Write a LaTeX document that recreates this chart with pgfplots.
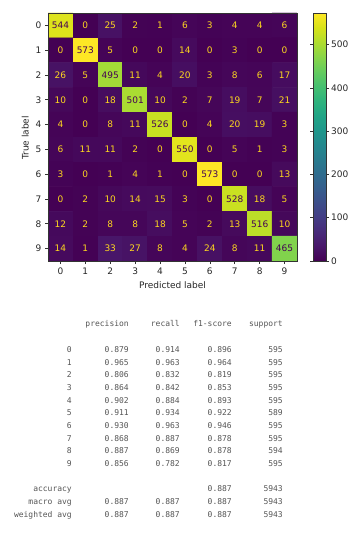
\documentclass[border=0pt]{standalone}
\usepackage{pgfplots}
\pgfplotsset{compat=1.18}
\usepackage{pgfplotstable}
\usepackage{fontspec}
\setmainfont{DejaVu Sans}
\newfontfamily\mono{DejaVu Sans Mono}
\definecolor{vyellow}{HTML}{FDE725}
\definecolor{vpurple}{HTML}{440154}
\definecolor{reptext}{HTML}{555555}
\pgfplotsset{/pgf/number format/assume math mode=true}

\pgfplotstableread{
x y c
0 0 544
1 0 0
2 0 25
3 0 2
4 0 1
5 0 6
6 0 3
7 0 4
8 0 4
9 0 6
0 1 0
1 1 573
2 1 5
3 1 0
4 1 0
5 1 14
6 1 0
7 1 3
8 1 0
9 1 0
0 2 26
1 2 5
2 2 495
3 2 11
4 2 4
5 2 20
6 2 3
7 2 8
8 2 6
9 2 17
0 3 10
1 3 0
2 3 18
3 3 501
4 3 10
5 3 2
6 3 7
7 3 19
8 3 7
9 3 21
0 4 4
1 4 0
2 4 8
3 4 11
4 4 526
5 4 0
6 4 4
7 4 20
8 4 19
9 4 3
0 5 6
1 5 11
2 5 11
3 5 2
4 5 0
5 5 550
6 5 0
7 5 5
8 5 1
9 5 3
0 6 3
1 6 0
2 6 1
3 6 4
4 6 1
5 6 0
6 6 573
7 6 0
8 6 0
9 6 13
0 7 0
1 7 2
2 7 10
3 7 14
4 7 15
5 7 3
6 7 0
7 7 528
8 7 18
9 7 5
0 8 12
1 8 2
2 8 8
3 8 8
4 8 18
5 8 5
6 8 2
7 8 13
8 8 516
9 8 10
0 9 14
1 9 1
2 9 33
3 9 27
4 9 8
5 9 4
6 9 24
7 9 8
8 9 11
9 9 465
}\cmdata

\pgfplotstableread{
x y c
1 0 0
2 0 25
3 0 2
4 0 1
5 0 6
6 0 3
7 0 4
8 0 4
9 0 6
0 1 0
2 1 5
3 1 0
4 1 0
5 1 14
6 1 0
7 1 3
8 1 0
9 1 0
0 2 26
1 2 5
3 2 11
4 2 4
5 2 20
6 2 3
7 2 8
8 2 6
9 2 17
0 3 10
1 3 0
2 3 18
4 3 10
5 3 2
6 3 7
7 3 19
8 3 7
9 3 21
0 4 4
1 4 0
2 4 8
3 4 11
5 4 0
6 4 4
7 4 20
8 4 19
9 4 3
0 5 6
1 5 11
2 5 11
3 5 2
4 5 0
6 5 0
7 5 5
8 5 1
9 5 3
0 6 3
1 6 0
2 6 1
3 6 4
4 6 1
5 6 0
7 6 0
8 6 0
9 6 13
0 7 0
1 7 2
2 7 10
3 7 14
4 7 15
5 7 3
6 7 0
8 7 18
9 7 5
0 8 12
1 8 2
2 8 8
3 8 8
4 8 18
5 8 5
6 8 2
7 8 13
9 8 10
0 9 14
1 9 1
2 9 33
3 9 27
4 9 8
5 9 4
6 9 24
7 9 8
8 9 11
}\offdiag

\pgfplotstableread{
x y c
0 0 544
1 1 573
2 2 495
3 3 501
4 4 526
5 5 550
6 6 573
7 7 528
8 8 516
9 9 465
}\diag

\begin{document}
\begin{tikzpicture}[x=1pt,y=1pt]
\path[use as bounding box] (0,0) rectangle (353,533);
\begin{axis}[
  at={(48pt,272pt)}, anchor=south west,
  scale only axis, width=249pt, height=248pt,
  xmin=-0.5, xmax=9.5, ymin=-0.5, ymax=9.5, y dir=reverse,
  enlargelimits=false,
  xtick={0,...,9}, ytick={0,...,9},
  tick align=outside, tick pos=left, major tick length=3pt,
  tick style={black!80, line width=0.6pt},
  axis line style={black!80, line width=0.6pt},
  ticklabel style={font=\fontsize{9}{10}\selectfont, text=black!85},
  label style={font=\fontsize{9}{10}\selectfont, text=black!85},
  xlabel={Predicted label}, ylabel={True label},
  ylabel style={xshift=-1pt},
  colormap/viridis,
  point meta min=0, point meta max=573,
  colorbar,
  colorbar style={
    at={(parent axis.north east)}, anchor=north west, xshift=7.5pt,
    scale only axis, width=13pt, height=248pt,
    y dir=normal,
    ytick={0,100,...,500},
    tick align=outside, major tick length=3pt,
    tick style={black!80, line width=0.6pt},
    axis line style={black!80, line width=0.6pt},
    yticklabel style={font=\fontsize{9}{10}\selectfont, text=black!85, inner sep=2pt},
  },
  axis on top,
]
\addplot[matrix plot*, mesh/cols=10, point meta=explicit] table[x=x, y=y, meta=c] {\cmdata};
\addplot[draw=none, mark=none, point meta=explicit symbolic, nodes near coords,
  nodes near coords style={anchor=center, inner sep=0pt, text=vyellow!85!orange, font=\fontsize{9}{10}\selectfont}]
  table[x=x, y=y, meta=c] {\offdiag};
\addplot[draw=none, mark=none, point meta=explicit symbolic, nodes near coords,
  nodes near coords style={anchor=center, inner sep=0pt, text=vpurple, font=\fontsize{9}{10}\selectfont}]
  table[x=x, y=y, meta=c] {\diag};
\end{axis}

\tikzset{rep/.style={anchor=base east, inner sep=0pt, text=reptext, font=\mono\fontsize{8}{9}\selectfont}}
% header
\node[rep] at (129,206.5) {precision};
\node[rep] at (180,206.5) {recall};
\node[rep] at (232,206.5) {f1-score};
\node[rep] at (283,206.5) {support};
\foreach \lab/\p/\r/\f/\s [count=\i from 0] in {
  0/0.879/0.914/0.896/595,
  1/0.965/0.963/0.964/595,
  2/0.806/0.832/0.819/595,
  3/0.864/0.842/0.853/595,
  4/0.902/0.884/0.893/595,
  5/0.911/0.934/0.922/589,
  6/0.930/0.963/0.946/595,
  7/0.868/0.887/0.878/595,
  8/0.887/0.869/0.878/594,
  9/0.856/0.782/0.817/595}{
  \pgfmathsetmacro\yy{180.6-12.67*\i}
  \node[rep] at (72,\yy) {\lab};
  \node[rep] at (129,\yy) {\p};
  \node[rep] at (180,\yy) {\r};
  \node[rep] at (232,\yy) {\f};
  \node[rep] at (283,\yy) {\s};
}
\node[rep] at (72,41.5) {accuracy};
\node[rep] at (232,41.5) {0.887};
\node[rep] at (283,41.5) {5943};
\node[rep] at (72,28.5) {macro avg};
\node[rep] at (129,28.5) {0.887};
\node[rep] at (180,28.5) {0.887};
\node[rep] at (232,28.5) {0.887};
\node[rep] at (283,28.5) {5943};
\node[rep] at (72,15.5) {weighted avg};
\node[rep] at (129,15.5) {0.887};
\node[rep] at (180,15.5) {0.887};
\node[rep] at (232,15.5) {0.887};
\node[rep] at (283,15.5) {5943};
\end{tikzpicture}
\end{document}
